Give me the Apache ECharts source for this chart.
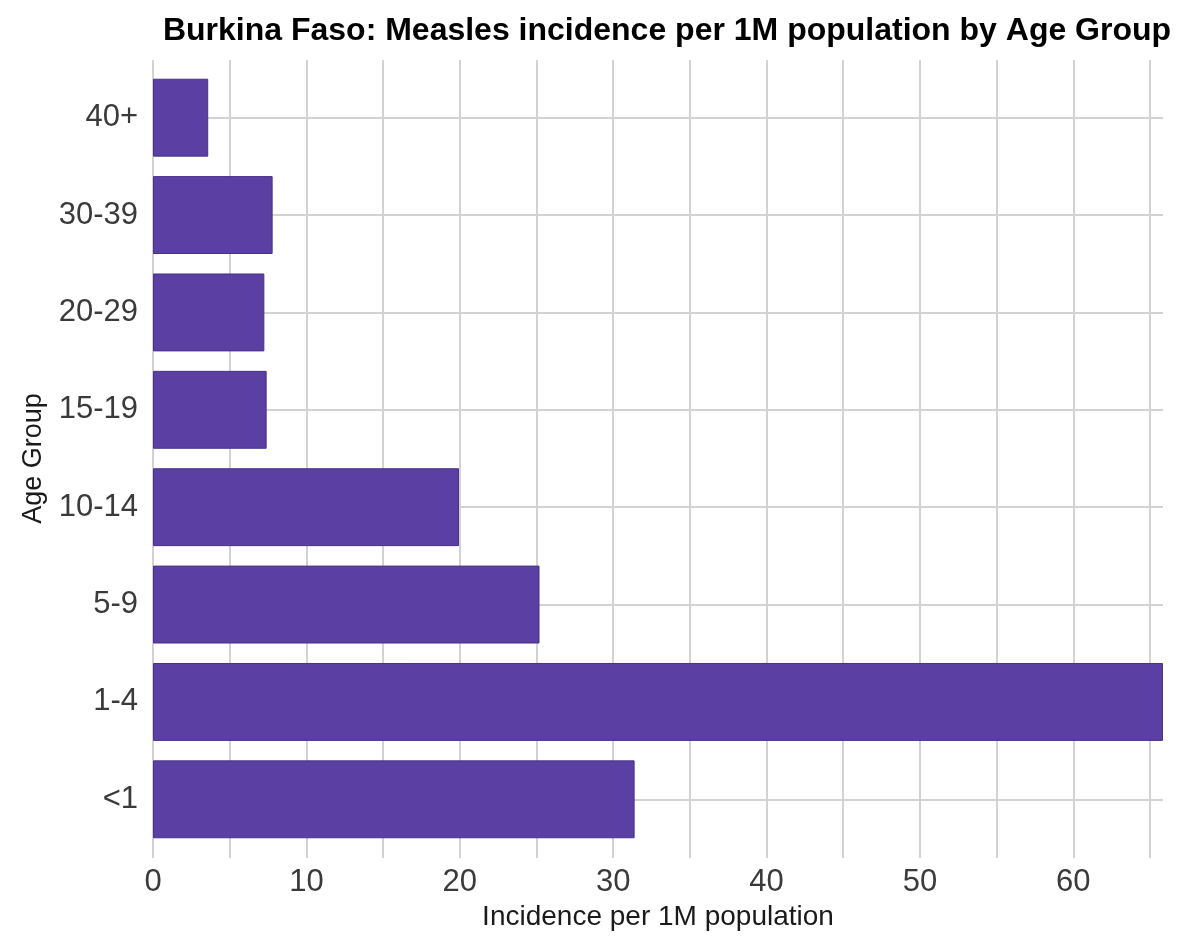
<!DOCTYPE html>
<html>
<head>
<meta charset="utf-8">
<script src="https://cdn.jsdelivr.net/npm/echarts@6/dist/echarts.min.js"></script>
<style>html,body{margin:0;padding:0;background:#fff}#c{width:1179px;height:937px}</style>
</head>
<body>
<div id="c"></div>
<script>
const titleText = 'Burkina Faso: Measles incidence per 1M population by Age Group';
const categories = ['<1', '1-4', '5-9', '10-14', '15-19', '20-29', '30-39', '40+'];
const incidence = [31.4, 65.85, 25.2, 19.95, 7.41, 7.26, 7.8, 3.6];
const xName = 'Incidence per 1M population';
const yName = 'Age Group';

const FONT = 'Liberation Sans, Arial, sans-serif';
const chart = echarts.init(document.getElementById('c'), null, {renderer: 'canvas'});
chart.setOption({
  backgroundColor: '#ffffff',
  animation: false,
  title: {
    text: titleText,
    left: 662, top: 10, textAlign: 'center',
    textStyle: {fontFamily: FONT, fontWeight: 'bold', fontSize: 32, color: '#000'}
  },
  grid: [
    {left: 153, right: 16, top: 69, height: 779},
    {left: 153, right: 29, top: 60, height: 798}
  ],
  xAxis: [
    {
      gridIndex: 0, type: 'value', min: 0, max: 65.85,
      axisLine: {show: false}, axisTick: {show: false}, axisLabel: {show: false},
      splitLine: {show: false},
      name: xName, nameLocation: 'middle', nameGap: 55,
      nameTextStyle: {fontFamily: FONT, fontSize: 28, color: '#1a1a1a'}
    },
    {
      gridIndex: 1, type: 'value', min: 0, max: 65, interval: 5,
      axisLine: {show: false}, axisTick: {show: false},
      axisLabel: {
        margin: 9, fontFamily: FONT, fontSize: 31, color: '#3a3a3a',
        formatter: v => (v % 10 === 0 ? String(v) : '')
      },
      splitLine: {show: true, lineStyle: {color: '#d2d2d2', width: 2}}
    }
  ],
  yAxis: [
    {
      gridIndex: 0, type: 'category', data: categories, boundaryGap: true,
      axisLine: {show: false}, axisTick: {show: false},
      axisLabel: {margin: 15, fontFamily: FONT, fontSize: 31, color: '#3a3a3a'},
      splitLine: {show: false},
      name: yName, nameLocation: 'middle', nameGap: 106, nameRotate: 90,
      nameTextStyle: {fontFamily: FONT, fontSize: 27, color: '#1a1a1a'}
    },
    {
      gridIndex: 1, type: 'value', min: 0, max: 1, show: false
    }
  ],
  series: [
    {
      type: 'bar', xAxisIndex: 0, yAxisIndex: 0, z: 2,
      data: incidence, barWidth: '80%',
      itemStyle: {color: '#5b3fa2', borderColor: '#47318c', borderWidth: 1},
      markLine: {
        silent: true, symbol: 'none', z: 1, label: {show: false},
        lineStyle: {type: 'solid', color: '#d2d2d2', width: 2},
        data: categories.map((c, i) => ({yAxis: i}))
      }
    }
  ]
});
</script>
</body>
</html>
